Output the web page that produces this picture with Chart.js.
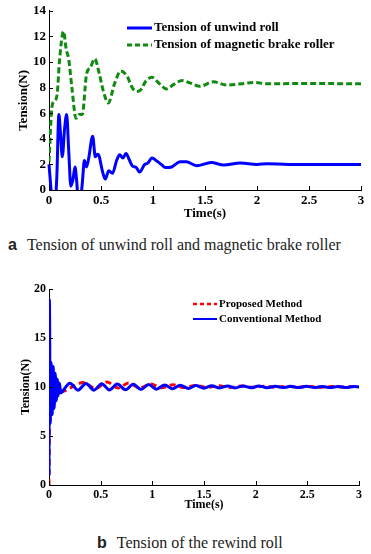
<!DOCTYPE html>
<html>
<head>
<meta charset="utf-8">
<script src="https://cdn.jsdelivr.net/npm/chart.js@4.4.1/dist/chart.umd.min.js"></script>
<style>
    body { margin: 0; background: #fff; width: 371px; height: 554px; position: relative; overflow: hidden; }
    .box { position: absolute; left: 0; width: 371px; }
    .cap { position: absolute; font: 16px "Liberation Serif", serif; color: #222; white-space: nowrap; line-height: 20px; }
    .cap b { font: bold 16px "Liberation Sans", Arial, sans-serif; margin-right: 10px; }
</style>
</head>
<body>
<div class="box" style="top:0;height:221px"><canvas id="unwindChart"></canvas></div>
<div class="cap" style="left:8px;top:235px"><b>a</b>Tension of unwind roll and magnetic brake roller</div>
<div class="box" style="top:270px;height:242px"><canvas id="rewindChart"></canvas></div>
<div class="cap" style="left:97px;top:533px"><b>b</b>Tension of the rewind roll</div>

<script>
// (a) unwind roll / magnetic brake roller
const unwindTime = [0, 0.015, 0.03, 0.06, 0.075, 0.095, 0.11, 0.128, 0.15, 0.17, 0.19, 0.21, 0.23, 0.25, 0.265, 0.28, 0.3, 0.32, 0.34, 0.36, 0.38, 0.42, 0.445, 0.465, 0.48, 0.51, 0.54, 0.575, 0.61, 0.65, 0.68, 0.71, 0.74, 0.77, 0.8, 0.84, 0.87, 0.92, 0.95, 0.99, 1.04, 1.08, 1.12, 1.18, 1.26, 1.32, 1.42, 1.56, 1.68, 1.84, 2.0, 2.1, 2.3, 2.6, 3.0];
const unwindTension = [2.0, 0.5, -0.8, -0.8, 1.0, 5.9, 4.5, 2.6, 4.8, 5.9, 3.0, 0.3, 0.8, 1.8, 0.8, -0.6, -0.8, 0.5, 2.3, 1.8, 2.4, 4.2, 2.6, 2.8, 2.7, 1.6, 0.85, 1.5, 1.3, 2.3, 2.75, 2.5, 2.85, 2.4, 1.9, 1.75, 1.4, 2.0, 2.1, 2.5, 2.25, 2.0, 1.75, 1.8, 2.2, 2.2, 1.9, 2.15, 1.95, 2.1, 2.0, 2.05, 2.0, 2.0, 2.0];
const brakeTime = [0, 0.03, 0.06, 0.08, 0.1, 0.14, 0.165, 0.19, 0.22, 0.26, 0.29, 0.32, 0.36, 0.4, 0.44, 0.48, 0.52, 0.57, 0.63, 0.69, 0.75, 0.8, 0.84, 0.88, 0.93, 0.99, 1.05, 1.13, 1.2, 1.28, 1.36, 1.45, 1.58, 1.71, 1.85, 1.97, 2.1, 2.4, 3.0];
const brakeTension = [2.2, 6.6, 7.0, 7.6, 10.0, 12.4, 11.0, 10.2, 8.0, 5.6, 5.9, 5.9, 9.0, 9.6, 10.25, 9.2, 7.8, 6.8, 8.3, 9.3, 8.9, 8.0, 7.7, 7.8, 8.5, 8.8, 8.4, 7.9, 8.25, 8.55, 8.35, 8.1, 8.45, 8.2, 8.3, 8.4, 8.3, 8.32, 8.3];

// (b) rewind roll
const proposedTime = [0, 0.006, 0.02, 0.04, 0.08, 0.15, 0.24, 0.33, 0.45, 0.56, 0.67, 0.77, 0.88, 0.98, 1.09, 1.2, 1.31, 1.42, 1.53, 1.64, 1.75, 1.86, 1.97, 2.08, 2.19, 2.3, 2.41, 2.52, 2.63, 2.74, 2.85, 2.96, 3.0];
const proposedTension = [0, 8.4, 7.8, 9.0, 9.4, 9.6, 10.1, 10.45, 9.85, 10.5, 9.9, 10.4, 9.9, 10.3, 9.92, 10.22, 9.94, 10.16, 9.95, 10.12, 9.96, 10.1, 9.97, 10.08, 9.97, 10.07, 9.98, 10.06, 9.98, 10.05, 9.99, 10.04, 10.02];
const conventionalTime = [0, 0.004, 0.012, 0.02, 0.03, 0.04, 0.05, 0.06, 0.07, 0.08, 0.09, 0.1, 0.115, 0.13, 0.203, 0.28, 0.358, 0.435, 0.51, 0.585, 0.66, 0.74, 0.816, 0.89, 0.965, 1.04, 1.12, 1.195, 1.27, 1.35, 1.42, 1.5, 1.575, 1.65, 1.73, 1.8, 1.88, 1.955, 2.03, 2.11, 2.19, 2.265, 2.34, 2.415, 2.49, 2.57, 2.645, 2.72, 2.8, 2.875, 2.95, 3.0];
const conventionalTension = [1.0, 18.9, 6.3, 12.5, 7.2, 12.1, 7.8, 11.4, 8.6, 10.8, 9.1, 10.4, 9.4, 9.55, 10.38, 9.68, 10.36, 9.68, 10.34, 9.7, 10.3, 9.72, 10.28, 9.75, 10.25, 9.78, 10.21, 9.82, 10.18, 9.85, 10.15, 9.88, 10.13, 9.9, 10.11, 9.91, 10.1, 9.92, 10.09, 9.93, 10.08, 9.94, 10.07, 9.94, 10.07, 9.95, 10.06, 9.95, 10.06, 9.95, 10.06, 10.0];

const timeTicks = [0, 0.5, 1, 1.5, 2, 2.5, 3];
const unwindTicks = [0, 2, 4, 6, 8, 10, 12, 14];
const rewindTicks = [0, 5, 10, 15, 20];

const pts = (xs, ys) => xs.map((x, i) => ({ x: x, y: ys[i] }));

// ticks pointing into the plot, like the original figure
const inwardTicks = {
    id: "inwardTicks",
    afterDatasetsDraw(chart) {
        const { ctx, chartArea: a, scales: { x, y } } = chart;
        ctx.save();
        ctx.strokeStyle = "#000";
        ctx.lineWidth = 1;
        ctx.beginPath();
        x.ticks.forEach((t, i) => {
            const px = Math.round(x.getPixelForTick(i)) + 0.5;
            ctx.moveTo(px, a.bottom);
            ctx.lineTo(px, a.bottom - 4);
        });
        y.ticks.forEach((t, i) => {
            const py = Math.round(y.getPixelForTick(i)) + 0.5;
            ctx.moveTo(a.left, py);
            ctx.lineTo(a.left + 4, py);
        });
        ctx.stroke();
        ctx.restore();
    },
};

// borderless legend placed inside the plot
const lineKey = {
    id: "lineKey",
    afterDraw(chart, args, o) {
        const ctx = chart.ctx;
        ctx.save();
        ctx.font = o.font;
        ctx.textBaseline = "middle";
        ctx.fillStyle = "#000";
        chart.data.datasets.forEach((ds, i) => {
            const y = o.top + i * o.gap;
            ctx.strokeStyle = ds.borderColor;
            ctx.lineWidth = o.widths[i];
            ctx.setLineDash(o.dashes[i]);
            ctx.beginPath();
            ctx.moveTo(o.left, y);
            ctx.lineTo(o.left + o.len, y);
            ctx.stroke();
            ctx.setLineDash([]);
            ctx.fillText(ds.label, o.left + o.len + 2, y);
        });
        ctx.restore();
    },
};

function axisFont(size) {
    return { family: "'Liberation Serif', 'Times New Roman', serif", weight: "bold", size: size };
}

function makeChart(id, datasets, yTicks, fontSize, padding, xHeight, yTitlePad, key) {
    const ctx = document.getElementById(id).getContext("2d");
    return new Chart(ctx, {
        type: "line",
        data: { datasets: datasets },
        plugins: [inwardTicks, lineKey],
        options: {
            responsive: true,
            maintainAspectRatio: false,
            animation: false,
            layout: { padding: padding },
            elements: { point: { radius: 0 } },
            plugins: {
                legend: { display: false },
                tooltip: { enabled: false },
                lineKey: key,
            },
            scales: {
                x: {
                    type: "linear",
                    min: 0,
                    max: 3,
                    afterBuildTicks: (s) => { s.ticks = timeTicks.map((v) => ({ value: v })); },
                    afterFit: (s) => { s.height = xHeight; },
                    grid: { display: false, drawTicks: false },
                    border: { color: "#000", width: 1 },
                    ticks: { color: "#000", font: axisFont(fontSize), padding: 3, maxRotation: 0, autoSkip: false, callback: (v) => String(v) },
                    title: { display: true, text: "Time(s)", color: "#000", font: axisFont(fontSize), padding: { top: 0, bottom: 0 } },
                },
                y: {
                    min: 0,
                    max: yTicks[yTicks.length - 1],
                    afterBuildTicks: (s) => { s.ticks = yTicks.map((v) => ({ value: v })); },
                    afterFit: (s) => { s.width = 49; },
                    grid: { display: false, drawTicks: false },
                    border: { color: "#000", width: 1 },
                    ticks: { color: "#000", font: axisFont(fontSize), padding: 3, autoSkip: false, callback: (v) => String(v) },
                    title: { display: true, text: "Tension(N)", color: "#000", font: axisFont(fontSize), padding: { top: yTitlePad, bottom: 0 } },
                },
            },
        },
    });
}

document.addEventListener("DOMContentLoaded", function () {
    makeChart("unwindChart", [
        {
            label: "Tension of unwind roll",
            data: pts(unwindTime, unwindTension),
            borderColor: "#0000ff",
            borderWidth: 3,
            cubicInterpolationMode: "monotone",
            clip: { left: 2, top: 2, right: 2, bottom: 0 },
        },
        {
            label: "Tension of magnetic brake roller",
            data: pts(brakeTime, brakeTension),
            borderColor: "#118a11",
            borderWidth: 3,
            borderDash: [6, 3],
            cubicInterpolationMode: "monotone",
        },
    ], unwindTicks, 13, { left: 0, top: 10, right: 10, bottom: 0 }, 31, 16,
    { left: 127, len: 25, top: 28, gap: 17, font: "bold 13px 'Liberation Serif', serif", widths: [3, 3], dashes: [[], [5, 3]] });

    makeChart("rewindChart", [
        {
            label: "Proposed Method",
            data: pts(proposedTime, proposedTension),
            borderColor: "#ff0000",
            borderWidth: 3,
            borderDash: [6, 4],
            cubicInterpolationMode: "monotone",
            order: 1,
        },
        {
            label: "Conventional Method",
            data: pts(conventionalTime, conventionalTension),
            borderColor: "#0000ff",
            borderWidth: 3,
            cubicInterpolationMode: "monotone",
            order: 0,
        },
    ], rewindTicks, 12, { left: 0, top: 19, right: 12, bottom: 0 }, 27, 19,
    { left: 193, len: 24, top: 34, gap: 15, font: "bold 11px 'Liberation Serif', serif", widths: [2.5, 2], dashes: [[4, 3], []] });
});
</script>
</body>
</html>
